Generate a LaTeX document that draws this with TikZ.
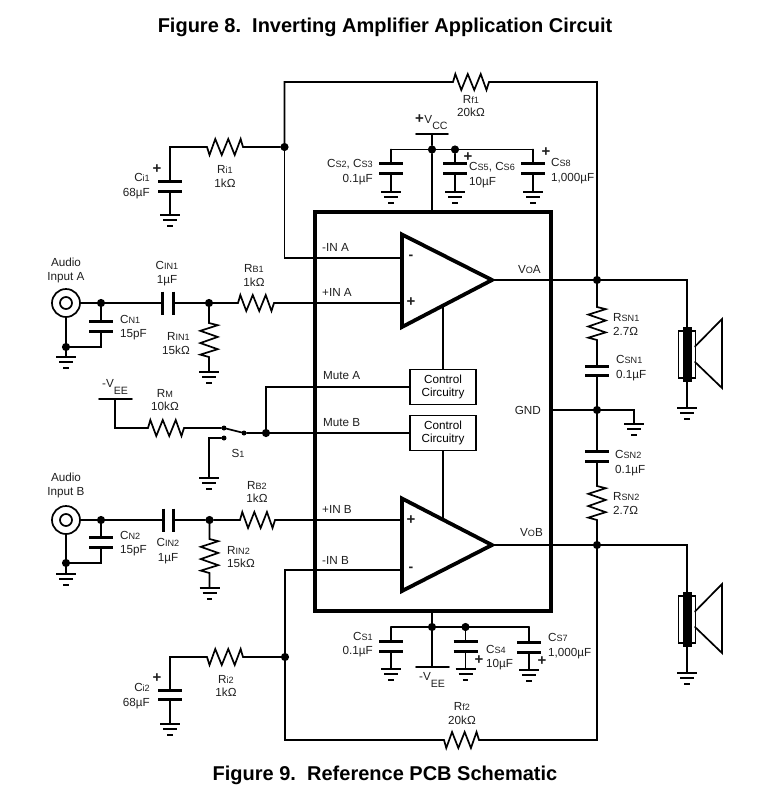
\documentclass[tikz,border=0pt]{standalone}
\usepackage{fontspec}
\setmainfont{Liberation Sans}
\usetikzlibrary{calc}
\newcommand\sm[1]{{\fontsize{9.1}{9.1}\selectfont #1}}
\newcommand\lowr[1]{\raisebox{-6.5pt}{\fontsize{10.6}{10.6}\selectfont #1}}
\newcommand\bplus{{\fontsize{15}{15}\selectfont\bfseries +}}
\tikzset{
  x=1pt,y=-1pt,
  wire/.style={line width=1.7pt,line cap=round,line join=miter},
  plate/.style={line width=3pt},
  gbar/.style={line width=1.7pt},
  heavy/.style={line width=4.4pt,line join=miter},
  jdot/.style={circle,fill=black,draw=none,inner sep=0pt,minimum size=8.2pt},
  sdot/.style={circle,fill=black,draw=none,inner sep=0pt,minimum size=5pt},
  lbl/.style={inner sep=0pt,font=\fontsize{11.7}{13.5}\selectfont,text=black!88},
  ttl/.style={inner sep=0pt,font=\fontsize{20}{22}\selectfont\bfseries},
  zig/.style={to path={
    -- ($(\tikztostart)!0.065!(\tikztotarget)!#1pt!90:(\tikztotarget)$)
    -- ($(\tikztostart)!0.23!(\tikztotarget)!-#1pt!90:(\tikztotarget)$)
    -- ($(\tikztostart)!0.41!(\tikztotarget)!#1pt!90:(\tikztotarget)$)
    -- ($(\tikztostart)!0.59!(\tikztotarget)!-#1pt!90:(\tikztotarget)$)
    -- ($(\tikztostart)!0.77!(\tikztotarget)!#1pt!90:(\tikztotarget)$)
    -- ($(\tikztostart)!0.93!(\tikztotarget)!-#1pt!90:(\tikztotarget)$)
    -- (\tikztotarget)}},
}
% named ground symbol: #1 name, #2 x, #3 top y
\newcommand\Gnd[3]{%
  \coordinate (#1) at (#2,#3);
  \draw[gbar] ($(#1)+(-10,0)$) -- ($(#1)+(10,0)$);
  \draw[gbar] ($(#1)+(-7,5.2)$) -- ($(#1)+(7,5.2)$);
  \draw[line width=2.2pt] ($(#1)+(-2.6,10.8)$) -- ($(#1)+(2.6,10.8)$);}
% vertical-axis capacitor: #1 name, #2 x, #3 upper plate y, #4 lower plate y, #5 half width
\newcommand\CapV[5]{%
  \coordinate (#1t) at (#2,#3); \coordinate (#1b) at (#2,#4);
  \draw[plate] ($(#1t)+(-#5,0)$) -- ($(#1t)+(#5,0)$);
  \draw[plate] ($(#1b)+(-#5,0)$) -- ($(#1b)+(#5,0)$);}
% horizontal-axis capacitor: #1 name, #2 left plate x, #3 right plate x, #4 y, #5 half height
\newcommand\CapH[5]{%
  \coordinate (#1l) at (#2,#4); \coordinate (#1r) at (#3,#4);
  \draw[plate] ($(#1l)+(0,-#5)$) -- ($(#1l)+(0,#5)$);
  \draw[plate] ($(#1r)+(0,-#5)$) -- ($(#1r)+(0,#5)$);}
% speaker: #1 name, #2 centre x, #3 top of coil, #4 bottom of coil
\newcommand\Spk[4]{%
  \coordinate (#1t) at (#2,#3); \coordinate (#1b) at (#2,#4);
  \fill ($(#1t)+(-4.5,0)$) rectangle ($(#1b)+(4.5,0)$);
  \draw[line width=1.4pt] ($(#1t)+(-8.5,4)$) rectangle ($(#1b)+(8.5,-4)$);
  \draw[wire,line join=miter] ($(#1t)+(8,19.5)$) -- ($(#1t)+(35,-8)$) -- ($(#1b)+(35,6)$) -- ($(#1b)+(8,-20)$);}
\begin{document}
\begin{tikzpicture}
\useasboundingbox (0,0) rectangle (780,804);
% titles
\node[ttl] (t8) at (385,27) {Figure 8.\ \ Inverting Amplifier Application Circuit};
\node[ttl] (t9) at (385,775) {Figure 9.\ \ Reference PCB Schematic};

% chip and internal blocks
\draw[heavy] (315,212) rectangle (551,611);
\coordinate (pMinA) at (401,258); \coordinate (pPlsA) at (401,303);
\coordinate (pMinB) at (401,570); \coordinate (pPlsB) at (401,520);
\coordinate (oA) at (492,280); \coordinate (oB) at (492,545);
\coordinate (chipTop) at (432,212); \coordinate (chipBot) at (432,611);
\coordinate (chipGnd) at (551,410);
\draw[line width=3.8pt,line join=miter,miter limit=6] (402,234.5) -- (oA) -- (402,327) -- cycle;
\draw[line width=3.8pt,line join=miter,miter limit=6] (402,498.5) -- (oB) -- (402,591) -- cycle;
\node[draw,line width=1.6pt,inner sep=0pt,minimum width=66pt,minimum height=35pt,font=\fontsize{11.7}{13}\selectfont,align=center] (ctlA) at (443,387) {Control\\Circuitry};
\node[draw,line width=1.6pt,inner sep=0pt,minimum width=66pt,minimum height=35pt,font=\fontsize{11.7}{13}\selectfont,align=center] (ctlB) at (443,433) {Control\\Circuitry};
\coordinate (ampAc) at (443,307); \coordinate (ampBc) at (443,519);
\draw[wire] (ctlA.north) -- (ampAc);
\draw[wire] (ctlB.south) -- (ampBc);
\node[lbl,font=\fontsize{14}{14}\selectfont\bfseries] (mA) at (411,257) {-};
\node[lbl] (pA) at (411,302) {\bplus};
\node[lbl] (pB) at (411,520) {\bplus};
\node[lbl,font=\fontsize{14}{14}\selectfont\bfseries] (mB) at (411,569) {-};

% pin labels
\node[lbl,anchor=west] (l1) at (322,247) {-IN A};
\node[lbl,anchor=west] (l2) at (322,292) {+IN A};
\node[lbl,anchor=west] (l3) at (323,376) {Mute A};
\node[lbl,anchor=west] (l4) at (323,423) {Mute B};
\node[lbl,anchor=west] (l5) at (322,509) {+IN B};
\node[lbl,anchor=west] (l6) at (322,560) {-IN B};
\node[lbl,anchor=east] (l7) at (541,270) {V\sm{O}A};
\node[lbl,anchor=east] (l8) at (541,410) {GND};
\node[lbl,anchor=east] (l9) at (543,533) {V\sm{O}B};

% feedback A
\node[jdot] (jFbA) at (284.5,147) {};
\coordinate (cFbA) at (284.5,82);
\coordinate (Rf1a) at (453,82); \coordinate (Rf1b) at (489,82);
\node[jdot] (jVoA) at (597,280) {};
\coordinate (cVoA) at (597,82);
\draw[wire] (pMinA) -| (jFbA);
\draw[wire] (jFbA) -- (cFbA) -- (Rf1a) to[zig=8] (Rf1b) -- (cVoA) -- (jVoA);
\coordinate (Ri1a) at (207,147); \coordinate (Ri1b) at (243,147);
\CapV{Ci1}{170}{181}{191}{12}
\Gnd{gCi1}{170}{215}
\draw[wire] (jFbA) -- (Ri1b) to[zig=-8] (Ri1a) -- (170,147) -- (Ci1t);
\draw[wire] (Ci1b) -- (gCi1);
\node[lbl] (pCi1) at (157,169) {\bplus};
\node[lbl,anchor=east,align=right] (tCi1) at (150,186.5) {C\sm{i1}\\[1.5pt]68µF};
\node[lbl,align=center] (tRi1) at (225,176.5) {R\sm{i1}\\1kΩ};
\node[lbl,align=center] (tRf1) at (471,106) {R\sm{f1}\\20kΩ};

% supply VCC
\coordinate (barL) at (416,134); \coordinate (barR) at (448,134); \coordinate (barM) at (432,134);
\draw[wire] (barL) -- (barR);
\node[jdot] (jVcc) at (432,149.5) {};
\node[jdot] (jCs5) at (455,149.5) {};
\coordinate (cCs2) at (391,149.5); \coordinate (cCs8) at (533,149.5);
\draw[wire] (barM) -- (jVcc) -- (chipTop);
\draw[wire] (cCs2) -- (cCs8);
\CapV{Cs2}{391}{163}{173}{12}
\CapV{Cs5}{455}{163}{173}{12}
\CapV{Cs8}{533}{163}{173}{12}
\Gnd{gCs2}{391}{192}\Gnd{gCs5}{455}{192}\Gnd{gCs8}{533}{192}
\draw[wire] (cCs2) -- (Cs2t); \draw[wire] (Cs2b) -- (gCs2);
\draw[wire] (jCs5) -- (Cs5t); \draw[wire] (Cs5b) -- (gCs5);
\draw[wire] (cCs8) -- (Cs8t); \draw[wire] (Cs8b) -- (gCs8);
\node[lbl] (pCs5) at (468,157) {\bplus};
\node[lbl] (pCs8) at (546,152) {\bplus};
\node[lbl,anchor=west] (tVcc) at (415,122) {\bplus\hspace{0.5pt}V\lowr{CC}};
\node[lbl,anchor=east,align=right] (tCs2) at (373,172) {C\sm{S2}, C\sm{S3}\\[1pt]0.1µF};
\node[lbl,anchor=west,align=left] (tCs5) at (469,175.5) {C\sm{S5}, C\sm{S6}\\[1.5pt]10µF};
\node[lbl,anchor=west,align=left] (tCs8) at (551,171) {C\sm{S8}\\[1pt]1,000µF};

% input A
\node[draw,circle,line width=1.7pt,minimum size=28pt,inner sep=0pt] (jackA) at (66,303) {};
\node[draw,circle,line width=1.7pt,minimum size=12pt,inner sep=0pt] (jackAi) at (66,303) {};
\node[jdot] (jCn1) at (101,303) {};
\node[jdot] (jR1) at (209,303) {};
\node[jdot] (jGa) at (66,347) {};
\CapV{Cn1}{101}{321}{331}{12}
\CapH{Cin1}{162}{173}{303}{11.5}
\coordinate (Rb1a) at (238,303); \coordinate (Rb1b) at (274,303);
\coordinate (Rin1a) at (209,323); \coordinate (Rin1b) at (209,357);
\Gnd{gA}{66}{357}\Gnd{gRin1}{209}{372}
\draw[wire] (jackA) -- (jCn1) -- (Cin1l);
\draw[wire] (Cin1r) -- (jR1) -- (Rb1a) to[zig=8] (Rb1b) -- (pPlsA);
\draw[wire] (jCn1) -- (Cn1t);
\draw[wire] (Cn1b) |- (jGa);
\draw[wire] (jackA) -- (jGa) -- (gA);
\draw[wire] (jR1) -- (Rin1a) to[zig=8.7] (Rin1b) -- (gRin1);
\node[lbl,align=center] (tInA) at (66,270.5) {Audio\\Input A};
\node[lbl,align=center] (tCin1) at (167,273.5) {C\sm{IN1}\\[1pt]1µF};
\node[lbl,align=center] (tRb1) at (254,275.5) {R\sm{B1}\\1kΩ};
\node[lbl,anchor=west,align=left] (tCn1) at (120,327.5) {C\sm{N1}\\15pF};
\node[lbl,anchor=east,align=right] (tRin1) at (190,343.5) {R\sm{IN1}\\15kΩ};

% mute
\coordinate (veeL) at (99,399); \coordinate (veeR) at (132,399); \coordinate (veeM) at (115,399);
\draw[wire] (veeL) -- (veeR);
\node[lbl,anchor=west] (tVee1) at (102,387) {-V\lowr{EE}};
\coordinate (Rma) at (148,428); \coordinate (Rmb) at (184,428);
\node[sdot] (s1) at (224,428) {};
\node[sdot] (s2) at (224,438) {};
\node[sdot] (s3) at (244,433) {};
\node[jdot] (jMute) at (266,433) {};
\Gnd{gS}{209}{478}
\draw[wire] (veeM) |- (Rma) to[zig=8] (Rmb) -- (s1);
\draw[wire] (s1) -- (s3) -- (jMute) -- (ctlB.west);
\draw[wire] (s2) -| (gS);
\draw[wire] (jMute) |- (ctlA.west);
\node[lbl,align=center] (tRm) at (165,400) {R\sm{M}\\10kΩ};
\node[lbl] (tS1) at (238,453) {S\sm{1}};

% input B
\node[draw,circle,line width=1.7pt,minimum size=28pt,inner sep=0pt] (jackB) at (66,520) {};
\node[draw,circle,line width=1.7pt,minimum size=12pt,inner sep=0pt] (jackBi) at (66,520) {};
\node[jdot] (jCn2) at (101,520) {};
\node[jdot] (jR2) at (209.5,520) {};
\node[jdot] (jGb) at (66,563) {};
\CapV{Cn2}{101}{537}{547}{12}
\CapH{Cin2}{163}{173}{520}{11.5}
\coordinate (Rb2a) at (240,520); \coordinate (Rb2b) at (275,520);
\coordinate (Rin2a) at (209.5,539); \coordinate (Rin2b) at (209.5,573);
\Gnd{gB}{66}{574}\Gnd{gRin2}{209.5}{588}
\draw[wire] (jackB) -- (jCn2) -- (Cin2l);
\draw[wire] (Cin2r) -- (jR2) -- (Rb2a) to[zig=8] (Rb2b) -- (pPlsB);
\draw[wire] (jCn2) -- (Cn2t);
\draw[wire] (Cn2b) |- (jGb);
\draw[wire] (jackB) -- (jGb) -- (gB);
\draw[wire] (jR2) -- (Rin2a) to[zig=8.7] (Rin2b) -- (gRin2);
\node[lbl,align=center] (tInB) at (66,485.5) {Audio\\Input B};
\node[lbl,align=center] (tCin2) at (168,551) {C\sm{IN2}\\[1pt]1µF};
\node[lbl,align=center] (tRb2) at (257,492) {R\sm{B2}\\1kΩ};
\node[lbl,anchor=west,align=left] (tCn2) at (120,543.5) {C\sm{N2}\\15pF};
\node[lbl,anchor=west,align=left] (tRin2) at (227,557) {R\sm{IN2}\\15kΩ};

% outputs, snubbers and speakers
\node[jdot] (jVoB) at (597,545) {};
\node[jdot] (jGnd) at (597,410) {};
\coordinate (Rs1a) at (597,307); \coordinate (Rs1b) at (597,340);
\CapV{Csn1}{597}{366}{375}{12}
\CapV{Csn2}{597}{451}{461}{12}
\coordinate (Rs2a) at (597,486); \coordinate (Rs2b) at (597,520);
\Gnd{gNd}{634}{424}
\draw[wire] (oA) -- (jVoA);
\draw[wire] (oB) -- (jVoB);
\draw[wire] (jVoA) -- (Rs1a) to[zig=8.7] (Rs1b) -- (Csn1t);
\draw[wire] (Csn1b) -- (jGnd) -- (Csn2t);
\draw[wire] (Csn2b) -- (Rs2a) to[zig=8.7] (Rs2b) -- (jVoB);
\draw[wire] (chipGnd) -- (jGnd);
\draw[wire] (jGnd) -| (gNd);
\Spk{SpA}{687}{327}{382}
\Spk{SpB}{687}{592}{647}
\Gnd{gSpA}{687}{408}\Gnd{gSpB}{687}{673}
\draw[wire] (jVoA) -| (SpAt);
\draw[wire] (SpAb) -- (gSpA);
\draw[wire] (jVoB) -| (SpBt);
\draw[wire] (SpBb) -- (gSpB);
\node[lbl,anchor=west,align=left] (tRs1) at (613,324.5) {R\sm{SN1}\\2.7Ω};
\node[lbl,anchor=west,align=left] (tCs1n) at (616,368) {C\sm{SN1}\\[1pt]0.1µF};
\node[lbl,anchor=west,align=left] (tCs2n) at (615,463.5) {C\sm{SN2}\\[1.5pt]0.1µF};
\node[lbl,anchor=west,align=left] (tRs2) at (613,503.5) {R\sm{SN2}\\2.7Ω};

% feedback B
\node[jdot] (jFbB) at (285,657) {};
\coordinate (cFbB) at (285,740);
\coordinate (Rf2a) at (444,740); \coordinate (Rf2b) at (479,740);
\coordinate (cVoB) at (597,740);
\draw[wire] (pMinB) -| (jFbB);
\draw[wire] (jFbB) -- (cFbB) -- (Rf2a) to[zig=-8] (Rf2b) -- (cVoB) -- (jVoB);
\coordinate (Ri2a) at (207,657); \coordinate (Ri2b) at (243,657);
\CapV{Ci2}{170}{690}{699}{12}
\Gnd{gCi2}{170}{724}
\draw[wire] (jFbB) -- (Ri2b) to[zig=-8] (Ri2a) -- (170,657) -- (Ci2t);
\draw[wire] (Ci2b) -- (gCi2);
\node[lbl] (pCi2) at (157,678) {\bplus};
\node[lbl,anchor=east,align=right] (tCi2) at (150,696.5) {C\sm{i2}\\[1.5pt]68µF};
\node[lbl,align=center] (tRi2) at (226,686) {R\sm{i2}\\1kΩ};
\node[lbl,align=center] (tRf2) at (462,713.5) {R\sm{f2}\\20kΩ};

% supply VEE
\node[jdot] (jVee) at (432,627) {};
\node[jdot] (jCs4) at (465.5,627) {};
\coordinate (cCs1) at (391,627); \coordinate (cCs7) at (529,627);
\coordinate (bvL) at (416,667); \coordinate (bvR) at (449,667); \coordinate (bvM) at (432,667);
\draw[wire] (bvL) -- (bvR);
\draw[wire] (chipBot) -- (jVee) -- (bvM);
\draw[wire] (cCs1) -- (cCs7);
\CapV{Cs1}{391}{641}{651}{12}
\CapV{Cs4}{465.5}{641}{651}{12}
\CapV{Cs7}{529}{642}{652}{12}
\Gnd{gCs1}{391}{669}\Gnd{gCs4}{465.5}{669}\Gnd{gCs7}{529}{670}
\draw[wire] (cCs1) -- (Cs1t); \draw[wire] (Cs1b) -- (gCs1);
\draw[wire] (jCs4) -- (Cs4t); \draw[wire] (Cs4b) -- (gCs4);
\draw[wire] (cCs7) -- (Cs7t); \draw[wire] (Cs7b) -- (gCs7);
\node[lbl] (pCs4) at (479,660) {\bplus};
\node[lbl] (pCs7) at (542,661) {\bplus};
\node[lbl,anchor=west] (tVee2) at (419,680) {-V\lowr{EE}};
\node[lbl,anchor=east,align=right] (tCs1) at (373,644.5) {C\sm{S1}\\[1pt]0.1µF};
\node[lbl,anchor=west,align=left] (tCs4) at (486,657.5) {C\sm{S4}\\[1pt]10µF};
\node[lbl,anchor=west,align=left] (tCs7) at (548,646) {C\sm{S7}\\[1.5pt]1,000µF};
\end{tikzpicture}
\end{document}
